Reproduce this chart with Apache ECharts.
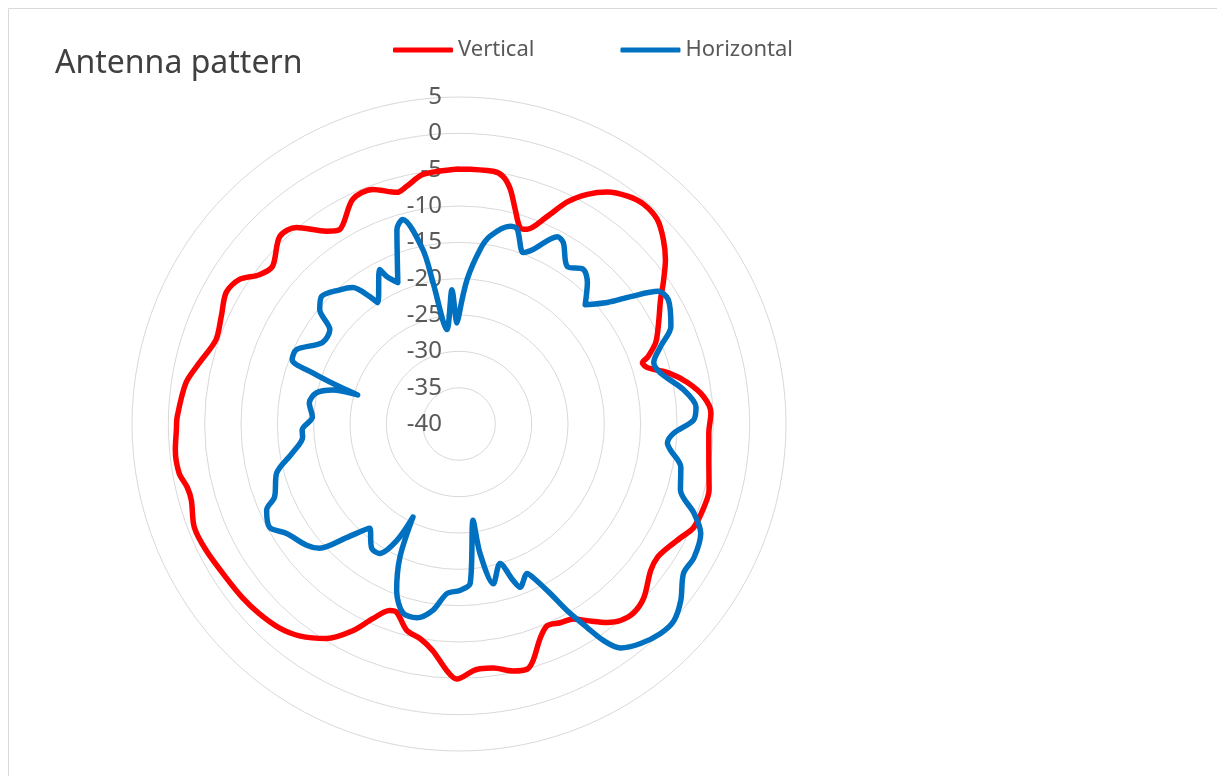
<!DOCTYPE html>
<html>
<head>
<meta charset="utf-8">
<script src="https://cdn.jsdelivr.net/npm/echarts@6/dist/echarts.min.js"></script>
<style>
html,body{margin:0;padding:0;background:#fff;}
#chart{width:1217px;height:776px;}
</style>
</head>
<body>
<div id="chart"></div>
<script>
// Radius tick range (dB)
const radiusMin = -40;
const radiusMax = 5;
const radiusStep = 5;

// Vertical polarisation: angle (deg, clockwise from top) and level (dB)
const vAngles = [0,7.7,10.1,12.3,14.7,17.3,19.3,23.0,26.0,29.2,32.6,36.5,40.0,44.1,47.9,51.5,55.3,58.3,63.1,67.5,70.4,71.6,73.4,76.2,79.8,83.7,87.5,92.1,98.9,104.8,108.8,113.8,117.1,120.6,123.9,127.4,133.2,137.2,140.6,143.2,146.9,149.6,153.0,156.4,159.2,162.6,164.4,167.6,172.0,175.1,176.7,180.5,182.8,186.6,190.3,194.2,198.3,200.4,203.9,207.2,211.7,217.0,221.4,226.5,231.3,236.6,243.4,248.7,254.1,256.9,260.0,264.8,268.8,271.4,278.6,283.3,289.1,294.3,299.5,303.3,306.8,310.2,316.3,320.4,325.5,328.5,334.7,339.8,345.0,347.6,351.8,360];
const vValues = [-4.9,-4.9,-5.4,-6.9,-9.5,-11.7,-11.6,-9.0,-6.0,-3.8,-2.1,-1.0,-0.5,-0.8,-2.1,-3.7,-5.8,-7.4,-9.2,-10.7,-12.4,-13.4,-12.9,-10.4,-8.0,-6.1,-5.3,-5.6,-5.2,-4.4,-4.4,-4.7,-5.7,-6.6,-7.1,-6.8,-5.1,-4.6,-5.0,-5.9,-7.7,-8.9,-9.3,-9.7,-8.5,-5.9,-5.0,-5.2,-6.1,-6.2,-6.0,-4.9,-6.0,-8.6,-10.0,-10.7,-12.7,-12.6,-10.7,-8.0,-5.3,-3.5,-2.6,-2.1,-1.8,-1.6,-1.1,-0.9,-1.7,-1.6,-0.9,-0.8,-1.1,-1.2,-2.0,-3.3,-4.6,-4.1,-3.2,-3.8,-5.7,-6.4,-4.3,-4.9,-7.8,-8.6,-5.8,-5.6,-7.0,-6.5,-5.3,-4.9];

// Horizontal polarisation
const hAngles = [0,3.2,6.9,9.4,14.5,16.6,20.5,23.0,27.7,29.9,34.5,38.8,42.2,46.6,50.7,53.4,56.3,59.3,65.3,69.0,72.5,75.8,81.4,85.9,89.0,92.4,95.2,97.0,101.0,106.6,110.8,114.3,119.6,123.6,128.5,132.5,136.1,140.4,144.2,146.3,147.8,149.9,151.7,154.2,155.5,159.5,160.9,163.6,167.9,170.8,171.7,176.0,179.7,184.1,188.0,192.3,196.6,200.5,203.9,206.3,208.1,211.5,215.1,220.6,224.7,228.3,231.5,237.6,241.4,245.9,248.4,254.9,260.1,265.2,267.8,272.7,278.0,282.3,285.1,286.0,287.3,289.3,291.1,294.6,300.8,306.1,309.4,312.8,318.4,322.1,325.0,326.2,332.8,333.9,336.6,342.3,344.6,348.3,349.6,352.7,357.0,358.9,360];
const hValues = [-25.0,-20.1,-15.8,-13.8,-11.9,-12.0,-14.8,-13.9,-10.9,-11.2,-13.7,-12.7,-13.7,-16.1,-13.6,-10.6,-7.1,-6.5,-7.9,-10.3,-11.9,-11.4,-8.7,-7.3,-7.7,-10.4,-11.2,-10.7,-8.9,-8.2,-5.4,-3.5,-2.8,-2.9,-1.0,0.1,0.0,-0.8,-2.0,-4.2,-6.9,-10.3,-13.5,-16.5,-17.4,-16.0,-17.2,-20.0,-17.5,-22.0,-26.6,-18.0,-17.1,-16.6,-14.1,-12.7,-12.9,-15.5,-19.9,-25.7,-21.8,-19.1,-19.1,-21.1,-18.0,-14.3,-13.2,-11.9,-10.3,-11.0,-12.7,-14.0,-16.7,-18.4,-18.4,-19.8,-19.2,-19.9,-22.0,-25.5,-22.8,-18.6,-15.4,-15.4,-18.1,-18.0,-15.2,-14.2,-15.3,-16.2,-18.6,-19.9,-16.1,-17.4,-18.8,-11.9,-10.8,-15.5,-20.2,-26.9,-21.5,-26.1,-25.0];

const seriesNames = ['Vertical', 'Horizontal'];

function pairs(vals, angs) {
  return vals.map((v, i) => [v, angs[i]]);
}

const chart = echarts.init(document.getElementById('chart'), null, {renderer: 'canvas'});
chart.setOption({
  animation: false,
  backgroundColor: '#ffffff',
  graphic: [{
    type: 'rect',
    shape: {x: 8.5, y: 8.5, width: 1400, height: 1000},
    style: {fill: 'none', stroke: '#d9d9d9', lineWidth: 1},
    silent: true,
    z: -10
  }],
  title: {
    text: 'Antenna pattern',
    left: 50,
    top: 43,
    textStyle: {fontFamily: 'Noto Sans', fontSize: 32, fontWeight: 'normal', color: '#404040'}
  },
  legend: {
    data: seriesNames,
    left: 388,
    top: 34,
    itemWidth: 60,
    itemHeight: 5,
    itemGap: 86,
    icon: 'roundRect',
    textStyle: {fontFamily: 'Noto Sans', fontSize: 22, color: '#595959'}
  },
  polar: {center: [459, 424], radius: 327},
  angleAxis: {
    type: 'value', min: 0, max: 360, startAngle: 90, clockwise: true,
    axisLine: {show: false}, axisTick: {show: false}, axisLabel: {show: false}, splitLine: {show: false}
  },
  radiusAxis: {
    type: 'value', min: radiusMin, max: radiusMax, interval: radiusStep,
    axisLine: {show: false}, axisTick: {show: false},
    axisLabel: {fontFamily: 'Noto Sans', fontSize: 24, color: '#595959', margin: 17},
    splitLine: {show: true, lineStyle: {color: '#d9d9d9', width: 1}}
  },
  series: [
    {
      name: seriesNames[0], type: 'line', coordinateSystem: 'polar',
      data: pairs(vValues, vAngles), showSymbol: false, symbol: 'none', smooth: 0.3,
      lineStyle: {color: '#ff0000', width: 5.5, cap: 'round', join: 'round'},
      itemStyle: {color: '#ff0000'}, z: 3
    },
    {
      name: seriesNames[1], type: 'line', coordinateSystem: 'polar',
      data: pairs(hValues, hAngles), showSymbol: false, symbol: 'none', smooth: 0.3,
      lineStyle: {color: '#0070c0', width: 5.5, cap: 'round', join: 'round'},
      itemStyle: {color: '#0070c0'}, z: 4
    }
  ]
});
</script>
</body>
</html>
